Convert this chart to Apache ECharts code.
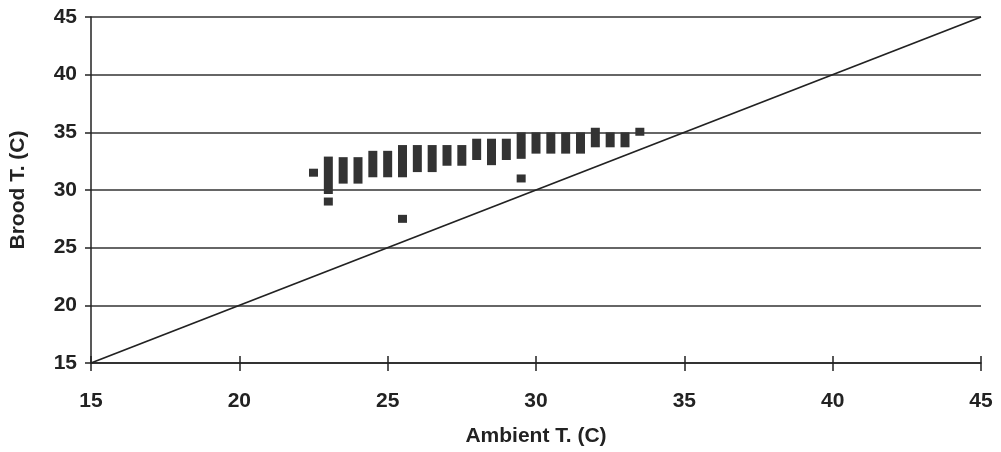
<!DOCTYPE html>
<html>
<head>
<meta charset="utf-8">
<script src="https://cdn.jsdelivr.net/npm/echarts@6/dist/echarts.min.js"></script>
<style>
  html, body { margin: 0; padding: 0; background: #fff; }
  #chart { width: 1001px; height: 452px; }
</style>
</head>
<body>
<div id="chart"></div>
<script>
// ambient temperature (x) and the range of brood temperatures recorded at it
const ambient = [22.5, 23, 23.5, 24, 24.5, 25, 25.5, 26, 26.5, 27, 27.5, 28, 28.5, 29, 29.5, 30, 30.5, 31, 31.5, 32, 32.5, 33, 33.5];
const broodHigh = [31.5, 32.55, 32.5, 32.5, 33.05, 33.05, 33.55, 33.55, 33.55, 33.55, 33.55, 34.1, 34.1, 34.1, 34.65, 34.65, 34.65, 34.65, 34.65, 35.05, 34.65, 34.65, 35.05];
const broodLow = [31.5, 30.0, 30.9, 30.9, 31.45, 31.45, 31.45, 31.9, 31.9, 32.45, 32.45, 32.95, 32.5, 32.95, 33.05, 33.5, 33.5, 33.5, 33.5, 34.05, 34.05, 34.05, 35.05];
// isolated readings below the main ranges
const outlierX = [23, 25.5, 29.5];
const outlierY = [29.0, 27.5, 31.0];
// equality line brood = ambient
const equalLine = [[15, 15], [45, 45]];
const ticks = [15, 20, 25, 30, 35, 40, 45];

const chart = echarts.init(document.getElementById('chart'));

const rangeData = ambient.map((x, i) => [x, broodLow[i], broodHigh[i]]);
outlierX.forEach((x, i) => rangeData.push([x, outlierY[i], outlierY[i]]));

const labelFont = { fontFamily: 'Liberation Sans', fontWeight: 'bold', fontSize: 21, color: '#222' };

const option = {
  animation: false,
  backgroundColor: '#fff',
  grid: { left: 91, right: 20, top: 17, bottom: 89, outerBoundsMode: 'none' },
  xAxis: [
    {
      type: 'value', min: ticks[0], max: ticks[ticks.length - 1], interval: 5,
      position: 'bottom',
      name: 'Ambient T. (C)', nameLocation: 'middle', nameGap: 63,
      nameTextStyle: labelFont,
      axisLine: { lineStyle: { color: '#222', width: 1.5 } },
      axisTick: { length: 8, lineStyle: { color: '#222', width: 1.5 } },
      axisLabel: Object.assign({ margin: 28 }, labelFont),
      splitLine: { show: false }
    },
    {
      type: 'value', min: 15, max: 45, interval: 5,
      position: 'bottom', offset: 0,
      axisLine: { show: false },
      axisTick: { inside: true, length: 7, lineStyle: { color: '#222', width: 1.5 } },
      axisLabel: { show: false },
      splitLine: { show: false }
    }
  ],
  yAxis: {
    type: 'value', min: 15, max: 45, interval: 5,
    name: 'Brood T. (C)', nameLocation: 'middle', nameGap: 62,
    nameTextStyle: labelFont,
    axisLine: { show: true, lineStyle: { color: '#222', width: 1.5 } },
    axisTick: { show: true, length: 6, lineStyle: { color: '#222', width: 1.5 } },
    axisLabel: Object.assign({ margin: 14 }, labelFont),
    splitLine: { lineStyle: { color: '#333', width: 1.5 } }
  },
  series: [
    {
      type: 'line',
      data: equalLine,
      symbol: 'none',
      lineStyle: { color: '#222', width: 1.8 },
      z: 3
    },
    {
      type: 'custom',
      data: rangeData,
      encode: { x: 0, y: [1, 2] },
      renderItem: (params, api) => {
        const low = api.coord([api.value(0), api.value(1)]);
        const high = api.coord([api.value(0), api.value(2)]);
        return {
          type: 'rect',
          shape: { x: low[0] - 4.5, y: high[1] - 4, width: 9, height: low[1] - high[1] + 8 },
          style: { fill: '#333' }
        };
      },
      z: 4
    }
  ]
};

chart.setOption(option);
window.addEventListener('resize', () => chart.resize());
</script>
</body>
</html>
